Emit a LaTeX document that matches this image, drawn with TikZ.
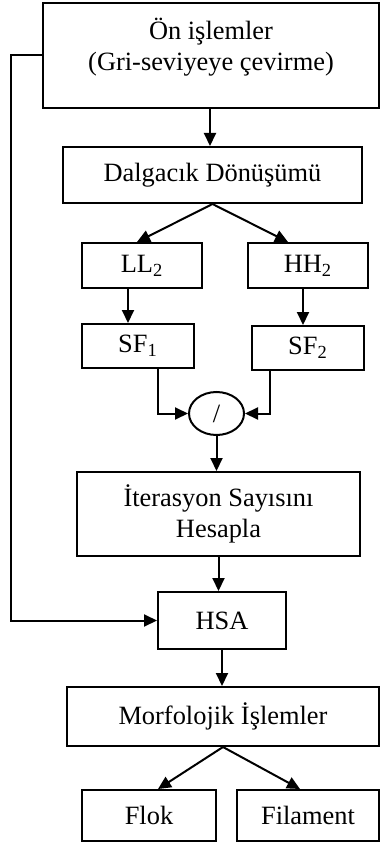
\documentclass[tikz,border=0pt]{standalone}
\usepackage{fontspec}
\setmainfont{Liberation Serif}
\usetikzlibrary{arrows.meta,shapes.geometric,calc}
\begin{document}
\begin{tikzpicture}[x=0.5pt,y=-0.5pt,
  every node/.style={font=\fontsize{13.2}{15.5}\selectfont},
  box/.style={draw,line width=1pt,rectangle,inner sep=0pt,align=center},
  arr/.style={line width=1pt,-{Triangle[length=6.5pt,width=6pt]}},
  ln/.style={line width=1pt}]
\useasboundingbox (0,0) rectangle (380,845);
\node[box,minimum width=336*0.5pt,minimum height=105*0.5pt] (on) at (211,55.5) {};
\node[align=center,inner sep=0pt] (ont) at (211,47.5) {Ön işlemler\\(Gri-seviyeye çevirme)};
\node[box,minimum width=299*0.5pt,minimum height=56*0.5pt] (dal) at (212.5,175) {Dalgacık Dönüşümü};
\node[box,minimum width=120*0.5pt,minimum height=45*0.5pt] (ll) at (142,265.5) {LL\textsubscript{2}};
\node[box,minimum width=120*0.5pt,minimum height=45*0.5pt] (hh) at (308,265.5) {HH\textsubscript{2}};
\node[box,minimum width=112*0.5pt,minimum height=44*0.5pt] (sfa) at (138,346) {SF\textsubscript{1}};
\node[box,minimum width=112*0.5pt,minimum height=44*0.5pt] (sfb) at (308,348) {SF\textsubscript{2}};
\node[draw,line width=1pt,ellipse,inner sep=0pt,minimum width=55*0.5pt,minimum height=43*0.5pt] (div) at (216.5,413.5) {/};
\node[box,minimum width=283*0.5pt,minimum height=84*0.5pt] (it) at (218.5,514) {İterasyon Sayısını\\Hesapla};
\node[box,minimum width=128*0.5pt,minimum height=57*0.5pt] (hsa) at (222,620.5) {HSA};
\node[box,minimum width=312*0.5pt,minimum height=59*0.5pt] (mor) at (223,716.5) {Morfolojik İşlemler};
\node[box,minimum width=134*0.5pt,minimum height=51*0.5pt] (flok) at (149,815.5) {Flok};
\node[box,minimum width=142*0.5pt,minimum height=51*0.5pt] (fil) at (308,815.5) {Filament};
% connectors
\draw[arr] (on.south -| 210,0) -- (dal.north -| 210,0);
\draw[arr] (dal.south) -- ([xshift=-2.5pt]ll.north);
\draw[arr] (dal.south) -- ([xshift=-10pt]hh.north);
\draw[arr] ([xshift=-7pt]ll.south) -- ([xshift=-7pt]ll.south |- sfa.north);
\draw[arr] ([xshift=-2.5pt]hh.south) -- ([xshift=-2.5pt]hh.south |- sfb.north);
\draw[arr] ([xshift=10pt]sfa.south) |- (div.west);
\draw[arr] ([xshift=-19pt]sfb.south) |- (div.east);
\draw[arr] (div.south) -- (div.south |- it.north);
\draw[arr] (it.south) -- (it.south |- hsa.north);
\draw[arr] (on.west) -- ++(-31,0) coordinate (fb) |- (hsa.west);
\draw[arr] (hsa.south) -- (hsa.south |- mor.north);
\draw[arr] (mor.south) -- ([xshift=4.5pt]flok.north);
\draw[arr] (mor.south) -- ([xshift=-4pt]fil.north);
\end{tikzpicture}
\end{document}
